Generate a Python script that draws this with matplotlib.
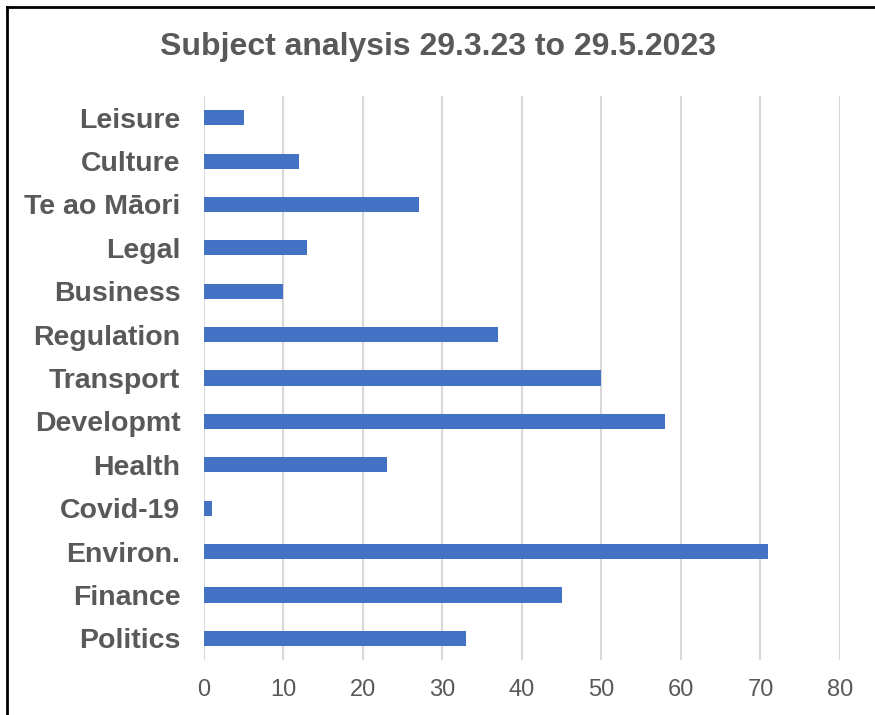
import matplotlib.pyplot as plt
from matplotlib.lines import Line2D

plt.rcParams['font.family'] = ['Liberation Sans', 'DejaVu Sans']

subjects = ['Leisure', 'Culture', 'Te ao Māori', 'Legal', 'Business', 'Regulation',
            'Transport', 'Developmt', 'Health', 'Covid-19', 'Environ.', 'Finance', 'Politics']
counts = [5, 12, 27, 13, 10, 37, 50, 58, 23, 1, 71, 45, 33]
ticks = [0, 10, 20, 30, 40, 50, 60, 70, 80]

fig = plt.figure(figsize=(8.75, 7.15), dpi=100)
ax = fig.add_axes([0.2331, 0.0769, 0.7269, 0.7888])

pos = list(range(len(subjects)))
ax.barh(pos, counts, height=0.35, color='#4472C4', zorder=3)
ax.set_yticks(pos)
ax.set_yticklabels(subjects, fontsize=20.5, fontweight='bold', color='#595959')
ax.set_ylim(len(subjects) - 0.5, -0.5)

ax.set_xlim(0, 80)
ax.set_xticks(ticks)
ax.set_xticklabels([str(t) for t in ticks], fontsize=17, color='#595959')
ax.tick_params(axis='y', length=0, pad=17)
ax.tick_params(axis='x', length=0, pad=14)
ax.grid(axis='x', color='#d9d9d9', linewidth=1.5, zorder=0)
for s in ax.spines.values():
    s.set_visible(False)

fig.text(0.5, 0.934, 'Subject analysis 29.3.23 to 29.5.2023', ha='center', va='center',
         fontsize=23, fontweight='bold', color='#595959')

# frame lines along the top and left edge
fig.add_artist(Line2D([7 / 875, 1], [1 - 7 / 715, 1 - 7 / 715], color='black', linewidth=2,
                      transform=fig.transFigure))
fig.add_artist(Line2D([7 / 875, 7 / 875], [0, 1 - 7 / 715], color='black', linewidth=2,
                      transform=fig.transFigure))

fig.savefig('out.png', dpi=100)
